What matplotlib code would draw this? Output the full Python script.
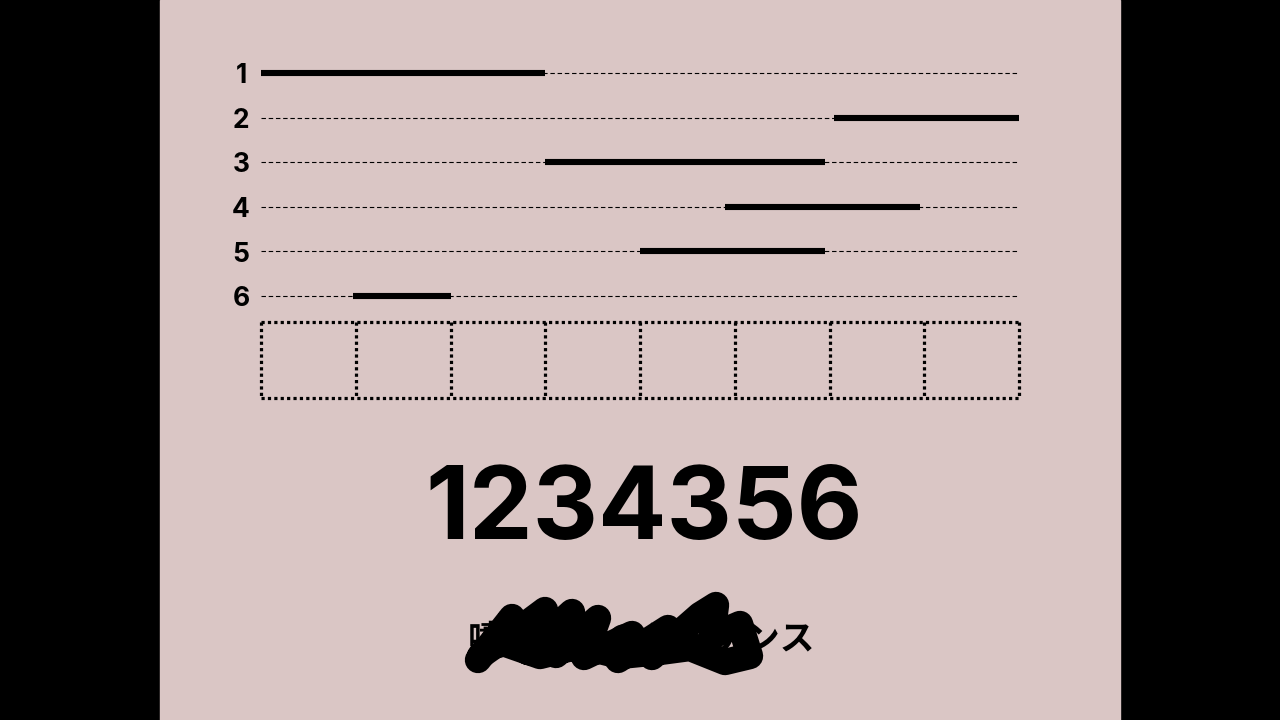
import numpy as np
import matplotlib.pyplot as plt
from matplotlib.patches import Rectangle

plt.rcParams['font.family'] = ['Noto Sans CJK JP', 'DejaVu Sans']

# data
rows = ['1', '2', '3', '4', '5', '6']
starts = [0.0, 6.05, 3.0, 4.9, 4.0, 0.97]
ends = [3.0, 8.0, 5.95, 6.95, 5.95, 2.0]
n_cells = 8
big_text = '1234356'
title = '噴射動作のシーケンス'

bg = '#dac6c5'

fig = plt.figure(figsize=(12.8, 7.2), dpi=100, facecolor='black')

# full-figure overlay in pixel units
base = fig.add_axes([0, 0, 1, 1])
base.set_xlim(0, 1280)
base.set_ylim(720, 0)
base.axis('off')
base.add_patch(Rectangle((160, 0), 960, 720, color=bg, zorder=0))

# timing chart
ax = fig.add_axes([261 / 1280, 1 - 407.5 / 720, 758 / 1280, 356.8 / 720])
ax.set_xlim(0, n_cells)
ax.set_ylim(8.5, 0.5)
ax.axis('off')
ax.patch.set_alpha(0)

for i, (lab, s, e) in enumerate(zip(rows, starts, ends)):
    y = i + 1
    ax.plot([0, n_cells], [y, y], color='black', lw=0.8, ls=(0, (4, 2.5)))
    ax.plot([s, e], [y, y], color='black', lw=4.4, solid_capstyle='butt')
    ax.text(-0.21, y + 0.23, lab, ha='center', va='baseline', fontsize=19,
            fontweight='bold', family=['Inter', 'DejaVu Sans'], color='black')

# dotted cell grid
gy0, gy1 = 6.58, 8.29
dots = dict(color='black', lw=2.3, ls=(0, (1, 1)), clip_on=False)
ax.plot([0, n_cells], [gy0, gy0], **dots)
ax.plot([0, n_cells], [gy1, gy1], **dots)
for k in range(n_cells + 1):
    ax.plot([k, k], [gy0, gy1], **dots)

# big number
base.text(644, 539, big_text, ha='center', va='baseline', fontsize=73,
          fontweight='bold', family=['Inter', 'DejaVu Sans'], color='black')

# title, partly scribbled out
base.text(641, 651, title, ha='center', va='baseline', fontsize=25,
          fontweight='bold', color='black')
sx = [478, 512, 498, 545, 528, 572, 556, 598, 584, 632, 618, 668, 652,
      700, 716, 712, 740, 750, 725, 690, 660, 620, 580, 540, 500, 480]
sy = [660, 617, 645, 610, 652, 612, 655, 618, 657, 634, 660, 628, 657,
      615, 605, 636, 624, 656, 662, 648, 652, 656, 646, 656, 642, 656]
base.plot(sx, sy, color='black', lw=19, solid_capstyle='round', solid_joinstyle='round')

fig.savefig('out.png', dpi=100, facecolor='black')
